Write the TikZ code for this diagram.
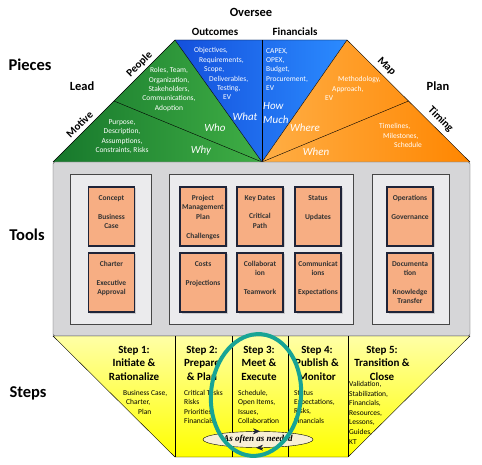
\documentclass[tikz,border=0pt]{standalone}
\usepackage{fontspec}
\setmainfont{Carlito}
\newfontfamily\loopfont{Liberation Serif}
\usepackage{tikz}
\usetikzlibrary{shapes,backgrounds,positioning,arrows.meta,shadows}
\usepackage{xcolor}

\definecolor{leafgreen}{HTML}{3FAE45}
\definecolor{darkgreen}{HTML}{17782C}
\definecolor{skyblue}{HTML}{2B8BFF}
\definecolor{deepblue}{HTML}{1450DC}
\definecolor{amber}{HTML}{FF8600}
\definecolor{lightamber}{HTML}{FFAE45}
\definecolor{salmon}{HTML}{F7AE83}
\definecolor{navyline}{HTML}{1F2438}
\definecolor{ringteal}{HTML}{17A495}
\definecolor{cream}{HTML}{F8EFD6}
\definecolor{panelgray}{HTML}{D6D6D8}
\definecolor{boxgray}{HTML}{EBEBED}

\begin{document}
\begin{tikzpicture}[x=1pt,y=-1pt,
    bigword/.style={font=\fontsize{16.5}{18}\selectfont\bfseries},
    topword/.style={font=\fontsize{12.5}{14}\selectfont\bfseries},
    edgeword/.style={font=\fontsize{11}{12}\selectfont\bfseries},
    piece/.style={text=white,font=\fontsize{7.5}{9.4}\selectfont,inner sep=0pt},
    ask/.style={text=white,font=\fontsize{11}{12}\selectfont\itshape,inner sep=0pt},
    card/.style={draw=navyline,line width=1.8pt,fill=salmon,minimum width=46pt,minimum height=59pt,
        drop shadow={opacity=0.3,shadow xshift=1.5pt,shadow yshift=-1.5pt}},
    cardtext/.style={font=\fontsize{7.5}{9.4}\selectfont\bfseries,align=center,inner sep=0pt,text=black!80},
    steptitle/.style={font=\fontsize{11}{13.5}\selectfont\bfseries,align=center,inner sep=0pt,anchor=north},
    stepitem/.style={font=\fontsize{7.5}{9.4}\selectfont,align=left,inner sep=0pt,anchor=north west}]

    \useasboundingbox (0,0) rectangle (482,465);
    \def\apex{(262,162)}

    \shade[left color=darkgreen,right color=leafgreen] (53,162) -- (175,40) -- \apex -- cycle;
    \shade[left color=deepblue,right color=skyblue] (175,40) -- (347,40) -- \apex -- cycle;
    \shade[left color=lightamber,right color=amber] (347,40) -- (470,162) -- \apex -- cycle;
    \draw[thin] (53,162) -- (175,40) -- (347,40) -- (470,162);
    \draw[thin] (175,40) -- \apex -- (347,40);
    \draw[thin] (114,101) -- \apex -- (408.5,101);
    \draw[thin] (262,40) -- \apex;

    \draw[gray!60!black,fill=panelgray,rounded corners=2pt] (53,162) rectangle (470,336);
    \draw[gray!55!black,fill=boxgray] (70,174) rectangle (151,324);
    \draw[gray!55!black,fill=boxgray] (169,174) rectangle (353,324);
    \draw[gray!55!black,fill=boxgray] (372,174) rectangle (449,324);

    \shadedraw[top color=yellow!35!white,bottom color=yellow,draw=black] (53,336) -- (470,336) -- (348,457) -- (175,457) -- cycle;
    \foreach \x in {175,232,288,348}
        \draw (\x,336) -- (\x,457);

    \node[card] (concept) at (111.5,216.5) {};
    \node[card] (charter) at (111.5,282.5) {};
    \node[card] (pmp) at (203,216.5) {};
    \node[card] (costs) at (203,282.5) {};
    \node[card] (keydates) at (260,216.5) {};
    \node[card] (collab) at (260,282.5) {};
    \node[card] (status) at (318,216.5) {};
    \node[card] (comms) at (318,282.5) {};
    \node[card] (ops) at (410,216.5) {};
    \node[card] (docs) at (410,282.5) {};

    \node[cardtext,below=9pt of concept.north] (conceptlbl) {Concept\\[9.4pt]Business\\Case};
    \node[cardtext,below=9pt of charter.north] (charterlbl) {Charter\\[9.4pt]Executive\\Approval};
    \node[cardtext,below=9pt of pmp.north] (pmplbl) {Project\\Management\\Plan\\[9.4pt]Challenges};
    \node[cardtext,below=9pt of costs.north] (costslbl) {Costs\\[9.4pt]Projections};
    \node[cardtext,below=9pt of keydates.north] (keydateslbl) {Key Dates\\[9.4pt]Critical\\Path};
    \node[cardtext,below=9pt of collab.north] (collablbl) {Collaborat\\ion\\[9.4pt]Teamwork};
    \node[cardtext,below=9pt of status.north] (statuslbl) {Status\\[9.4pt]Updates};
    \node[cardtext,below=9pt of comms.north] (commslbl) {Communicat\\ions\\[9.4pt]Expectations};
    \node[cardtext,below=9pt of ops.north] (opslbl) {Operations\\[9.4pt]Governance};
    \node[cardtext,below=9pt of docs.north] (docslbl) {Documenta\\tion\\[9.4pt]Knowledge\\Transfer};

    \node[bigword] (pieces) at (30,65) {Pieces};
    \node[bigword] (tools) at (27,235) {Tools};
    \node[bigword] (steps) at (28,393) {Steps};
    \node[topword] (oversee) at (251,12) {Oversee};
    \node[edgeword] (outcomes) at (215,32) {Outcomes};
    \node[edgeword] (financials) at (295,32) {Financials};
    \node[topword] (lead) at (82,86) {Lead};
    \node[topword] (plan) at (438,86) {Plan};
    \node[edgeword,rotate=45,inner sep=1pt] (people) at (139.5,64.5) {People};
    \node[edgeword,rotate=45,inner sep=1pt] (motive) at (79.5,124.5) {Motive};
    \node[edgeword,rotate=-45,inner sep=1pt] (map) at (386.5,66.5) {Map};
    \node[edgeword,rotate=-45,inner sep=1pt] (timing) at (440.5,119.5) {Timing};

    \node[piece,align=center] (whotext) at (169,89.5) {Roles, Team,\\Organization,\\Stakeholders,\\Communications,\\Adoption};
    \node[piece,align=center] (whytext) at (122,136.5) {Purpose,\\Description,\\Assumptions,\\Constraints, Risks};
    \node[piece,align=left,anchor=north west] (whattext) at (194,47.5) {Objectives,\\\hspace*{5pt}Requirements,\\\hspace*{10pt}Scope,\\\hspace*{15pt}Deliverables,\\\hspace*{23pt}Testing,\\\hspace*{29pt}EV};
    \node[piece,align=left,anchor=north west] (howtext) at (266,48) {CAPEX,\\OPEX,\\Budget,\\Procurement,\\EV};
    \node[piece,align=left,anchor=north west] (wheretext) at (325,76.5) {\hspace*{13pt}Methodology,\\\hspace*{7pt}Approach,\\EV};
    \node[piece,align=left,anchor=north west] (whentext) at (379,123.5) {Timelines,\\\hspace*{4pt}Milestones,\\\hspace*{15pt}Schedule};
    \node[ask] (who) at (215,128) {Who};
    \node[ask] (why) at (201,151) {Why};
    \node[ask] (what) at (245,117) {What};
    \node[ask,align=left,anchor=west] (howmuch) at (263,113) {How\\[2pt]Much};
    \node[ask] (where) at (305,128) {Where};
    \node[ask] (when) at (316,152) {When};

    \node[steptitle] (step1) at (134,346) {Step 1:\\Initiate \&\\Rationalize};
    \node[steptitle] (step2) at (202,346) {Step 2:\\Prepare\\\& Plan};
    \node[steptitle] (step3) at (259,346) {Step 3:\\Meet \&\\Execute};
    \node[steptitle] (step4) at (317,346) {Step 4:\\Publish \&\\Monitor};
    \node[steptitle] (step5) at (382,346) {Step 5:\\Transition \&\\Close};

    \node[stepitem] (items1) at (123,390) {Business Case,\\\hspace*{3pt}Charter,\\\hspace*{15pt}Plan};
    \node[stepitem] (items2) at (184,390) {Critical Tasks\\Risks\\Priorities\\Financials};
    \node[stepitem] (items3) at (238,390) {Schedule,\\Open Items,\\Issues,\\Collaboration};
    \node[stepitem] (items4) at (294,390) {Status\\Expectations,\\Risks,\\Financials};
    \node[stepitem,font=\fontsize{7.5}{9.6}\selectfont] (items5) at (349,381) {Validation,\\Stabilization,\\Financials,\\Resources,\\Lessons,\\Guides,\\KT};

    \node[draw,ellipse,fill=cream,inner sep=0pt,minimum width=110pt,minimum height=16pt,
        font=\loopfont\bfseries\itshape\fontsize{9}{10}\selectfont] (loop) at (258,439.5) {As often as needed};
    \draw[navyline,-{Stealth[length=7pt,width=6pt]}] ([xshift=-5pt]loop.north) -- ([xshift=2pt]loop.north);
    \draw[navyline,-{Stealth[length=7pt,width=6pt]}] ([xshift=5pt]loop.south) -- ([xshift=-2pt]loop.south);
    \draw[ringteal,line width=4pt,rotate around={-5:(256,395)}] (256,395) ellipse [x radius=45,y radius=61];
\end{tikzpicture}
\end{document}
